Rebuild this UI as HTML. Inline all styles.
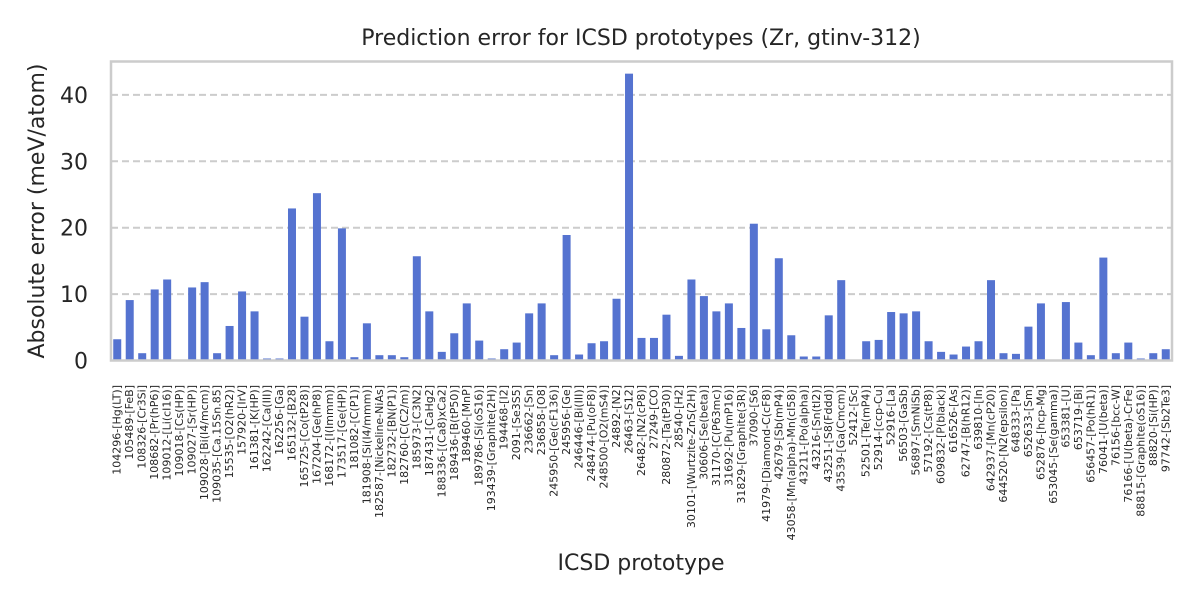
<!DOCTYPE html>
<html><head><meta charset="utf-8"><style>
html,body{margin:0;padding:0;background:#fff;}
svg{display:block;font-family:"DejaVu Sans","Liberation Sans",sans-serif;}
</style></head><body>
<svg id="chart" width="1200" height="600" viewBox="0 0 1200 600">
<rect x="0" y="0" width="1200" height="600" fill="#fff"/>
<text x="641" y="45" text-anchor="middle" font-size="22" fill="#262626">Prediction error for ICSD prototypes (Zr, gtinv-312)</text>
<g id="grid"></g>
<g id="bars"></g>
<rect x="111" y="61.5" width="1061" height="299" fill="none" stroke="#cccccc" stroke-width="2.5"/>
<g id="yticks"></g>
<g id="xticks"></g>
<text x="641" y="570" text-anchor="middle" font-size="22" fill="#262626">ICSD prototype</text>
<text transform="translate(44,211) rotate(-90)" text-anchor="middle" font-size="22" fill="#262626">Absolute error (meV/atom)</text>
</svg>
<script>
const categories = ["104296-[Hg(LT)]","105489-[FeB]","108326-[Cr3Si]","108682-[Pr(hP6)]","109012-[Li(cI16)]","109018-[Cs(HP)]","109027-[Sr(HP)]","109028-[Bi(I4/mcm)]","109035-[Ca.15Sn.85]","15535-[O2(hR2)]","157920-[IrV]","161381-[K(HP)]","162242-[Ca(III)]","162256-[Ga]","165132-[B28]","165725-[Co(tP28)]","167204-[Ge(hP8)]","168172-[I(Immm)]","173517-[Ge(HP)]","181082-[C(P1)]","181908-[Si(I4/mmm)]","182587-[Nickeline-NiAs]","182732-[BN(P1)]","182760-[C(C2/m)]","185973-[C3N2]","187431-[CaHg2]","188336-[(Ca8)xCa2]","189436-[B(tP50)]","189460-[MnP]","189786-[Si(oS16)]","193439-[Graphite(2H)]","194468-[I2]","2091-[Se3S5]","236662-[Sn]","236858-[O8]","245950-[Ge(cF136)]","245956-[Ge]","246446-[Bi(III)]","248474-[Pu(oF8)]","248500-[O2(mS4)]","24892-[N2]","26463-[S12]","26482-[N2(cP8)]","27249-[CO]","280872-[Ta(tP30)]","28540-[H2]","30101-[Wurtzite-ZnS(2H)]","30606-[Se(beta)]","31170-[C(P63mc)]","31692-[Pu(mP16)]","31829-[Graphite(3R)]","37090-[S6]","41979-[Diamond-C(cF8)]","42679-[Sb(mP4)]","43058-[Mn(alpha)-Mn(cI58)]","43211-[Po(alpha)]","43216-[Sn(tI2)]","43251-[S8(Fddd)]","43539-[Ga(Cmcm)]","52412-[Sc]","52501-[Te(mP4)]","52914-[ccp-Cu]","52916-[La]","56503-[GaSb]","56897-[SmNiSb]","57192-[Cs(tP8)]","609832-[P(black)]","616526-[As]","62747-[B(hR12)]","639810-[In]","642937-[Mn(cP20)]","644520-[N2(epsilon)]","648333-[Pa]","652633-[Sm]","652876-[hcp-Mg]","653045-[Se(gamma)]","653381-[U]","653719-[Bi]","656457-[Po(hR1)]","76041-[U(beta)]","76156-[bcc-W]","76166-[U(beta)-CrFe]","88815-[Graphite(oS16)]","88820-[Si(HP)]","97742-[Sb2Te3]"];
const errors = [3.2,9.1,1.1,10.7,12.2,0,11.0,11.8,1.1,5.2,10.4,7.4,0.3,0.3,22.9,6.6,25.2,2.9,19.9,0.5,5.6,0.8,0.8,0.5,15.7,7.4,1.3,4.1,8.6,3.0,0.3,1.7,2.7,7.1,8.6,0.8,18.9,0.9,2.6,2.9,9.3,43.2,3.4,3.4,6.9,0.7,12.2,9.7,7.4,8.6,4.9,20.6,4.7,15.4,3.8,0.6,0.6,6.8,12.1,0,2.9,3.1,7.3,7.1,7.4,2.9,1.3,0.9,2.1,2.9,12.1,1.1,1.0,5.1,8.6,0,8.8,2.7,0.8,15.5,1.1,2.7,0.3,1.1,1.7];
const yTicks = [0,10,20,30,40];

const NS = "http://www.w3.org/2000/svg";
const X0 = 111, X1 = 1172, Y0 = 360.5, PXU = 6.64;
const step = (X1 - X0) / categories.length;
const xPos = i => X0 + step * (i + 0.5);
const yPos = v => Y0 - v * PXU;
function mk(tag, attrs, parent){const e=document.createElementNS(NS,tag);for(const k in attrs)e.setAttribute(k,attrs[k]);parent.appendChild(e);return e;}
const grid=document.getElementById('grid'), bars=document.getElementById('bars'), yt=document.getElementById('yticks'), xt=document.getElementById('xticks');
yTicks.forEach(t=>{
  if(t>0){const l=mk('line',{x1:X0,x2:X1,y1:yPos(t),y2:yPos(t),stroke:'#cccccc','stroke-width':2,'stroke-dasharray':'7,4'},grid);
  
  }
  const tx=mk('text',{x:88,y:yPos(t)+8,'text-anchor':'end','font-size':22,fill:'#262626'},yt);
  tx.textContent=t;
  
  
});
categories.forEach((c,i)=>{
  const v=errors[i], bw=8;
  const r=mk('rect',{x:xPos(i)-bw/2,y:yPos(v),width:bw,height:Math.max(0,v*PXU),fill:'#5573d0'},bars);
  
  
  const tx=mk('text',{transform:`translate(${xPos(i)+3.5},385) rotate(-90)`,'text-anchor':'end','font-size':11,fill:'#262626'},xt);
  tx.textContent=c;
  
  
});
</script>
</body></html>
